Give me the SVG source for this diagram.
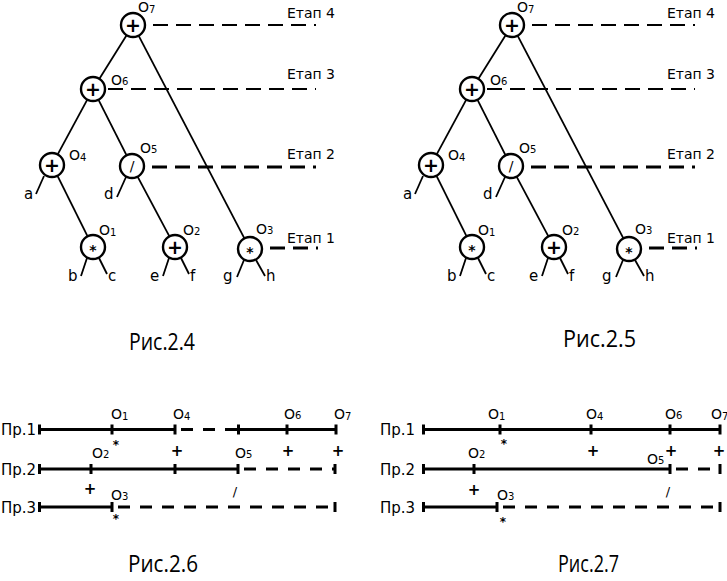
<svg xmlns="http://www.w3.org/2000/svg" width="727" height="581" viewBox="0 0 727 581">
<style>
text{font-family:"DejaVu Sans","Liberation Sans",sans-serif;fill:#000}
.nd{fill:#fff;stroke:#000;stroke-width:2.4}
.op{font-size:19px;font-weight:bold;text-anchor:middle}
.ast{font-size:14px;font-weight:bold;text-anchor:middle}
.sl{font-size:14px;text-anchor:middle}
.ol{font-size:14px}
.sub{font-size:10px}
.lf{font-size:15px}
.et{font-size:14px;text-anchor:end}
.cap{font-family:"Open Sans","DejaVu Sans",sans-serif;font-size:23px}
.pr{font-size:15px}
.e{stroke:#000;stroke-width:1.8;fill:none}
.d1{stroke:#000;stroke-width:2;stroke-dasharray:15 8;fill:none}
.d2{stroke:#000;stroke-width:3;stroke-dasharray:15 8;fill:none}
.ln{stroke:#000;stroke-width:3;fill:none}
.dl{stroke:#000;stroke-width:3;stroke-dasharray:12 10;fill:none}
.tk{stroke:#000;stroke-width:3}
.bp{font-size:15px;font-weight:bold;text-anchor:middle}
.ba{font-size:12px;font-weight:bold;text-anchor:middle}
.bs{font-size:13px;text-anchor:middle}
</style>
<defs>
<g id="treeEdges">
<line class="e" x1="126.6" y1="35.2" x2="99.4" y2="78.8"/>
<line class="e" x1="138.6" y1="35.6" x2="244.4" y2="238.4"/>
<line class="e" x1="87.3" y1="99.6" x2="57.7" y2="154.4"/>
<line class="e" x1="98.4" y1="99.7" x2="126.6" y2="155.3"/>
<line class="e" x1="57.4" y1="175.7" x2="87.6" y2="236.3"/>
<line class="e" x1="137.6" y1="176.6" x2="169.4" y2="236.4"/>
<line class="e" x1="44" y1="176" x2="36" y2="194"/>
<line class="e" x1="126" y1="177" x2="117" y2="197"/>
<line class="e" x1="87" y1="258" x2="81" y2="276"/>
<line class="e" x1="99" y1="258" x2="107" y2="274"/>
<line class="e" x1="169" y1="258" x2="163" y2="276"/>
<line class="e" x1="181" y1="258" x2="189" y2="274"/>
<line class="e" x1="244" y1="260" x2="237" y2="277"/>
<line class="e" x1="256" y1="260" x2="265" y2="276"/>
<line class="d1" x1="153" y1="25" x2="316" y2="25"/>
<line class="d1" x1="108" y1="89" x2="316" y2="89"/>
<line class="d2" x1="152" y1="167" x2="316" y2="167"/>
<line class="d2" x1="270" y1="248" x2="318" y2="248" stroke-dasharray="16 5 16 6 4"/>
</g>
</defs>

<!-- Figure 2.4 -->
<g id="connectors-2-4"><use href="#treeEdges"/></g>
<g id="n24-O7"><circle class="nd" cx="133" cy="25" r="12"/><text class="op" x="133" y="31.6">+</text><text class="ol" x="138" y="12">O<tspan class="sub" dy="1">7</tspan></text></g>
<g id="n24-O6"><circle class="nd" cx="93" cy="89" r="12"/><text class="op" x="93" y="95.6">+</text><text class="ol" x="111" y="85">O<tspan class="sub" dy="0">6</tspan></text></g>
<g id="n24-O4"><circle class="nd" cx="52" cy="165" r="12"/><text class="op" x="52" y="171.6">+</text><text class="ol" x="69" y="160">O<tspan class="sub" dy="1">4</tspan></text></g>
<g id="n24-O5"><circle class="nd" cx="132" cy="166" r="12"/><text class="sl" x="132" y="171">/</text><text class="ol" x="140" y="153">O<tspan class="sub" dy="0">5</tspan></text></g>
<g id="n24-O1"><circle class="nd" cx="93" cy="247" r="12"/><text class="ast" x="93" y="255">*</text><text class="ol" x="99" y="235">O<tspan class="sub" dy="1">1</tspan></text></g>
<g id="n24-O2"><circle class="nd" cx="175" cy="247" r="12"/><text class="op" x="175" y="253.6">+</text><text class="ol" x="183" y="235">O<tspan class="sub" dy="0">2</tspan></text></g>
<g id="n24-O3"><circle class="nd" cx="250" cy="249" r="12"/><text class="ast" x="250" y="257">*</text><text class="ol" x="256" y="234">O<tspan class="sub" dy="0">3</tspan></text></g>
<g id="leaves-2-4">
<text class="lf" x="24" y="199">a</text><text class="lf" x="104" y="199">d</text>
<text class="lf" x="68" y="281">b</text><text class="lf" x="108" y="281">c</text>
<text class="lf" x="150" y="281">e</text><text class="lf" x="190" y="281">f</text>
<text class="lf" x="223" y="281">g</text><text class="lf" x="266" y="281">h</text>
</g>
<g id="stages-2-4">
<text class="et" x="335" y="18">Етап 4</text>
<text class="et" x="335" y="79">Етап 3</text>
<text class="et" x="335" y="159">Етап 2</text>
<text class="et" x="335" y="243">Етап 1</text>
</g>
<text class="cap" x="129" y="350" textLength="66" lengthAdjust="spacingAndGlyphs">Рис.2.4</text>

<!-- Figure 2.5 -->
<g transform="translate(379,0)">
<g id="connectors-2-5"><use href="#treeEdges"/></g>
<g id="n25-O7"><circle class="nd" cx="133" cy="25" r="12"/><text class="op" x="133" y="31.6">+</text><text class="ol" x="138" y="12">O<tspan class="sub" dy="1">7</tspan></text></g>
<g id="n25-O6"><circle class="nd" cx="93" cy="89" r="12"/><text class="op" x="93" y="95.6">+</text><text class="ol" x="111" y="85">O<tspan class="sub" dy="0">6</tspan></text></g>
<g id="n25-O4"><circle class="nd" cx="52" cy="165" r="12"/><text class="op" x="52" y="171.6">+</text><text class="ol" x="69" y="160">O<tspan class="sub" dy="1">4</tspan></text></g>
<g id="n25-O5"><circle class="nd" cx="132" cy="166" r="12"/><text class="sl" x="132" y="171">/</text><text class="ol" x="140" y="153">O<tspan class="sub" dy="0">5</tspan></text></g>
<g id="n25-O1"><circle class="nd" cx="93" cy="247" r="12"/><text class="ast" x="93" y="255">*</text><text class="ol" x="99" y="235">O<tspan class="sub" dy="1">1</tspan></text></g>
<g id="n25-O2"><circle class="nd" cx="175" cy="247" r="12"/><text class="op" x="175" y="253.6">+</text><text class="ol" x="183" y="235">O<tspan class="sub" dy="0">2</tspan></text></g>
<g id="n25-O3"><circle class="nd" cx="250" cy="249" r="12"/><text class="ast" x="250" y="257">*</text><text class="ol" x="256" y="234">O<tspan class="sub" dy="0">3</tspan></text></g>
<g id="leaves-2-5">
<text class="lf" x="24" y="199">a</text><text class="lf" x="104" y="199">d</text>
<text class="lf" x="68" y="281">b</text><text class="lf" x="108" y="281">c</text>
<text class="lf" x="150" y="281">e</text><text class="lf" x="190" y="281">f</text>
<text class="lf" x="223" y="281">g</text><text class="lf" x="266" y="281">h</text>
</g>
<g id="stages-2-5">
<text class="et" x="336" y="18">Етап 4</text>
<text class="et" x="336" y="79">Етап 3</text>
<text class="et" x="336" y="159">Етап 2</text>
<text class="et" x="336" y="243">Етап 1</text>
</g>
</g>
<text class="cap" x="563" y="347" textLength="73" lengthAdjust="spacingAndGlyphs">Рис.2.5</text>

<!-- Figure 2.6 -->
<g id="fig-2-6">
<text class="pr" x="1" y="435">Пр.1</text>
<text class="pr" x="1" y="475">Пр.2</text>
<text class="pr" x="1" y="513">Пр.3</text>
<g id="lines-2-6">
<line class="ln" x1="39" y1="429.5" x2="175" y2="429.5"/>
<line class="dl" x1="181" y1="429.5" x2="238" y2="429.5"/>
<line class="ln" x1="238" y1="429.5" x2="336" y2="429.5"/>
<line class="ln" x1="39" y1="469" x2="238" y2="469"/>
<line class="dl" x1="244" y1="469" x2="335" y2="469"/>
<line class="ln" x1="39" y1="507" x2="112" y2="507"/>
<line class="dl" x1="118" y1="507" x2="335" y2="507"/>
<path class="tk" d="M39.5 424.5v10M112 424.5v10M175 424.5v10M238.5 424.5v10M287 424.5v10M336 424.5v10M39.5 464v10M91 464v10M175 464v10M238 464v10M335 464v10M39.5 502v10M112 502v10M335 502v10"/>
</g>
<text class="ol" x="111" y="419">O<tspan class="sub" dy="1">1</tspan></text>
<text class="ol" x="173" y="419">O<tspan class="sub" dy="1">4</tspan></text>
<text class="ol" x="284" y="419">O<tspan class="sub" dy="0">6</tspan></text>
<text class="ol" x="334" y="419">O<tspan class="sub" dy="1">7</tspan></text>
<text class="ba" x="116" y="449">*</text>
<text class="bp" x="177" y="456">+</text>
<text class="bp" x="288" y="456">+</text>
<text class="bp" x="338" y="456">+</text>
<text class="ol" x="92" y="458">O<tspan class="sub" dy="0">2</tspan></text>
<text class="ol" x="235" y="458">O<tspan class="sub" dy="0">5</tspan></text>
<text class="bp" x="90" y="494">+</text>
<text class="bs" x="235" y="496">/</text>
<text class="ol" x="111" y="500">O<tspan class="sub" dy="0">3</tspan></text>
<text class="ba" x="116" y="523">*</text>
</g>
<text class="cap" x="128" y="572" textLength="70" lengthAdjust="spacingAndGlyphs">Рис.2.6</text>

<!-- Figure 2.7 -->
<g id="fig-2-7">
<text class="pr" x="380" y="435">Пр.1</text>
<text class="pr" x="380" y="475">Пр.2</text>
<text class="pr" x="380" y="513">Пр.3</text>
<g id="lines-2-7">
<line class="ln" x1="423" y1="429.5" x2="720" y2="429.5"/>
<line class="ln" x1="423" y1="469" x2="670" y2="469"/>
<line class="dl" x1="676" y1="469" x2="720" y2="469"/>
<line class="ln" x1="423" y1="507" x2="497" y2="507"/>
<line class="dl" x1="503" y1="507" x2="720" y2="507"/>
<path class="tk" d="M423.5 424.5v10M500 424.5v10M591 424.5v10M670 424.5v10M720 424.5v10M423.5 464v10M474 464v10M670 464v10M720 464v10M423.5 502v10M497 502v10M720 502v10"/>
</g>
<text class="ol" x="488" y="419">O<tspan class="sub" dy="1">1</tspan></text>
<text class="ol" x="586" y="419">O<tspan class="sub" dy="1">4</tspan></text>
<text class="ol" x="665" y="419">O<tspan class="sub" dy="0">6</tspan></text>
<text class="ol" x="711" y="419">O<tspan class="sub" dy="1">7</tspan></text>
<text class="ba" x="504" y="448">*</text>
<text class="bp" x="593" y="456">+</text>
<text class="bp" x="671" y="456">+</text>
<text class="bp" x="719" y="456">+</text>
<text class="ol" x="468" y="458">O<tspan class="sub" dy="0">2</tspan></text>
<text class="ol" x="647" y="464">O<tspan class="sub" dy="0">5</tspan></text>
<text class="bp" x="474" y="495">+</text>
<text class="bs" x="668" y="496">/</text>
<text class="ol" x="497" y="500">O<tspan class="sub" dy="0">3</tspan></text>
<text class="ba" x="503" y="526">*</text>
</g>
<text class="cap" x="558" y="572" textLength="61" lengthAdjust="spacingAndGlyphs">Рис.2.7</text>
</svg>
